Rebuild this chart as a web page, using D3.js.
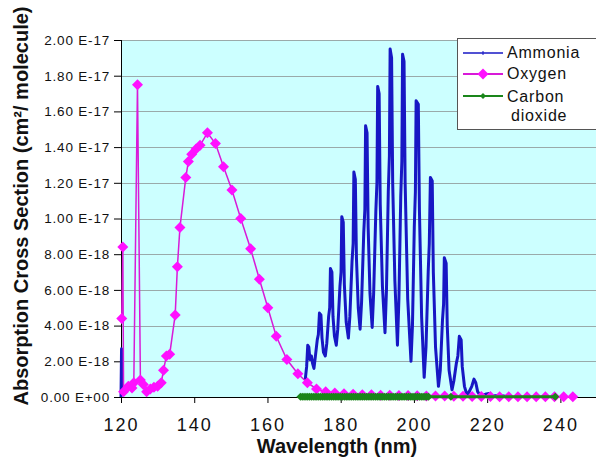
<!DOCTYPE html>
<html>
<head>
<meta charset="utf-8">
<script src="https://cdn.jsdelivr.net/npm/d3@7/dist/d3.min.js"></script>
<style>
  body { margin: 0; background: #fff; }
  svg { display: block; font-family: "Liberation Sans", Arial, sans-serif; }
</style>
</head>
<body>
<div id="chart"></div>
<script>
/* Absorption cross sections, values in units of 1e-18 cm² */

const ammonia = [
  [120.0, 0.0], [120.15, 2.7], [120.35, 0.1], null,
  [170.3, 0.95], [170.7, 1.7], [171.0, 2.9], [171.3, 2.8], [171.6, 2.1], [172.0, 2.3], [172.3, 1.9],
  [172.7, 1.6], [173.1, 2.3], [173.6, 3.2], [173.9, 3.5], [174.2, 4.7], [174.6, 4.6], [174.9, 3.3], [175.3, 2.5],
  [175.8, 2.3], [176.2, 3.0], [176.7, 4.5], [177.0, 5.0], [177.2, 7.2], [177.6, 7.0], [177.9, 4.5], [178.3, 3.4],
  [178.8, 2.9], [179.2, 3.8], [179.8, 6.2], [180.1, 7.0], [180.3, 10.1], [180.7, 9.8], [181.0, 6.3], [181.5, 4.2],
  [182.1, 3.3], [182.5, 4.5], [183.1, 7.6], [183.4, 8.6], [183.6, 12.6], [184.0, 12.2], [184.3, 7.8], [184.8, 5.0],
  [185.3, 3.8], [185.7, 5.3], [186.3, 9.2], [186.6, 10.5], [186.8, 15.2], [187.2, 14.8], [187.5, 9.5], [188.0, 5.8],
  [188.6, 3.9], [189.0, 5.8], [189.6, 10.4], [189.9, 12.0], [190.1, 17.4], [190.5, 17.0], [190.8, 10.8], [191.4, 6.2],
  [192.1, 3.6], [192.5, 6.0], [193.0, 11.5], [193.3, 13.5], [193.5, 19.5], [193.9, 19.0], [194.2, 12.0], [194.8, 6.5],
  [195.5, 2.9], [195.9, 5.5], [196.4, 11.2], [196.7, 13.2], [196.9, 19.2], [197.3, 18.8], [197.6, 12.0], [198.3, 5.5],
  [199.2, 2.0], [199.6, 4.0], [200.1, 9.5], [200.4, 11.5], [200.6, 16.6], [201.2, 16.4], [201.5, 10.5], [202.1, 4.5],
  [202.8, 1.1], [203.3, 2.8], [203.9, 7.0], [204.2, 8.6], [204.5, 12.3], [205.0, 12.1], [205.3, 7.0], [205.9, 2.8],
  [206.7, 0.6], [207.2, 1.5], [207.8, 4.3], [208.1, 5.2], [208.3, 7.8], [208.8, 7.5], [209.1, 4.0], [209.6, 1.5],
  [210.4, 0.4], [210.9, 0.9], [211.6, 1.9], [212.0, 2.3], [212.4, 3.4], [212.9, 3.2], [213.2, 1.7], [213.8, 0.6],
  [214.5, 0.1], [215.1, 0.3], [215.8, 0.6], [216.4, 1.0], [216.9, 0.8], [217.4, 0.3],
  [218.2, 0.05], [219.5, 0.15], [220.5, 0.2], [221.5, 0.05], [223.0, 0.08], [224.5, 0.05], [225.5, 0.02]
];

const oxygen = [
  [120.2, 4.4], [120.5, 8.4], [120.7, 0.3], [122.0, 0.6], [123.0, 0.5], [123.5, 0.8], [124.5, 17.5],
  [125.3, 0.95], [126.1, 0.7], [127.0, 0.3], [128.0, 0.45], [129.0, 0.55], [130.0, 0.6], [131.0, 0.8],
  [131.6, 1.5], [132.4, 2.3], [133.3, 2.4], [134.8, 4.6], [135.4, 7.3], [136.1, 9.5], [137.7, 12.3],
  [138.4, 13.2], [139.3, 13.6], [140.5, 13.9], [141.6, 14.1], [143.6, 14.8], [145.8, 14.2], [148.0, 12.9],
  [150.3, 11.6], [152.7, 10.0], [155.4, 8.3], [157.8, 6.6], [160.1, 5.0], [162.4, 3.4], [165.3, 2.1],
  [168.3, 1.3], [170.9, 0.8], [173.4, 0.45], [175.9, 0.3], [178.4, 0.22], [180.9, 0.18], [183.4, 0.15],
  [185.9, 0.13], [188.4, 0.12], [190.9, 0.1], [193.4, 0.1], [195.9, 0.08], [198.4, 0.08], [200.9, 0.07],
  [203.4, 0.06], [205.9, 0.05], [208.4, 0.05], [210.9, 0.04], [213.4, 0.04], [215.9, 0.03], [218.4, 0.03],
  [220.9, 0.03], [223.4, 0.02], [225.9, 0.02], [228.4, 0.02], [230.9, 0.02], [233.4, 0.02], [235.9, 0.01],
  [238.4, 0.01], [240.9, 0.01], [243.4, 0.01]
];

const carbonDioxide = [
  [169, 0.02], [169.5, 0.02], [170, 0.02], [170.5, 0.02], [171, 0.02], [171.5, 0.02], [172, 0.02],
  [172.5, 0.02], [173, 0.02], [173.5, 0.02], [174, 0.02], [174.5, 0.02], [175, 0.02], [175.5, 0.02],
  [176, 0.02], [176.5, 0.02], [177, 0.02], [177.5, 0.02], [178, 0.02], [178.5, 0.02], [179, 0.02],
  [179.5, 0.02], [180, 0.02], [180.5, 0.02], [181, 0.02], [181.5, 0.02], [182, 0.02], [182.5, 0.02],
  [183, 0.02], [183.5, 0.02], [184, 0.02], [184.5, 0.02], [185, 0.02], [185.5, 0.02], [186, 0.02],
  [186.5, 0.02], [187, 0.02], [187.5, 0.02], [188, 0.02], [188.5, 0.02], [189, 0.02], [189.5, 0.02],
  [190, 0.02], [190.5, 0.02], [191, 0.02], [191.5, 0.02], [192, 0.02], [192.5, 0.02], [193, 0.02],
  [193.5, 0.02], [194, 0.02], [194.5, 0.02], [195, 0.02], [195.5, 0.02], [196, 0.02], [196.5, 0.02],
  [197, 0.02], [197.5, 0.02], [198, 0.02], [198.5, 0.02], [199, 0.02], [199.5, 0.02], [200, 0.02],
  [200.5, 0.02], [201, 0.02], [201.5, 0.02], [202, 0.02], [202.5, 0.02], [203, 0.02], [203.5, 0.02],
  [204, 0.02], [210.1, 0.01], [238.6, 0.01]
];

const xTicks = [120, 140, 160, 180, 200, 220, 240];
const yTicks = [0, 2, 4, 6, 8, 10, 12, 14, 16, 18, 20];
const yTickLabels = ["0.00 E+00", "2.00 E-18", "4.00 E-18", "6.00 E-18", "8.00 E-18", "1.00 E-17",
  "1.20 E-17", "1.40 E-17", "1.60 E-17", "1.80 E-17", "2.00 E-17"];

const W = 596, H = 458;
const plot = { left: 121, right: 597, top: 40, bottom: 397 };

const svg = d3.select("#chart").append("svg").attr("width", W).attr("height", H);

const x = d3.scaleLinear().domain([120, 250]).range([plot.left, plot.right]);
const y = d3.scaleLinear().domain([0, 20]).range([plot.bottom, plot.top]);

// plot area
svg.append("rect")
  .attr("x", plot.left).attr("y", plot.top)
  .attr("width", plot.right - plot.left).attr("height", plot.bottom - plot.top)
  .attr("fill", "#ccffff");

svg.append("g").selectAll("line")
  .data(yTicks.filter((d) => d > 0))
  .join("line")
  .attr("x1", plot.left).attr("x2", plot.right)
  .attr("y1", (d) => Math.round(y(d)) + 0.5).attr("y2", (d) => Math.round(y(d)) + 0.5)
  .attr("stroke", "#9aaaaa").attr("stroke-width", 1);

// axes
const yAxis = svg.append("g")
  .attr("transform", `translate(${plot.left},0)`)
  .call(d3.axisLeft(y).tickValues(yTicks).tickSize(7).tickPadding(4)
    .tickFormat((d, i) => yTickLabels[i]));
yAxis.select(".domain").remove();
yAxis.selectAll("line").attr("stroke", "#000");
yAxis.selectAll("text")
  .attr("font-size", 13.5).attr("letter-spacing", 0.8).attr("fill", "#111")
  .attr("font-family", "'Liberation Sans', Arial, sans-serif");

const xAxis = svg.append("g")
  .attr("transform", `translate(0,${plot.bottom})`)
  .call(d3.axisBottom(x).tickValues(xTicks).tickSize(6).tickPadding(15));
xAxis.select(".domain").remove();
xAxis.selectAll("line").attr("stroke", "#000");
xAxis.selectAll("text")
  .attr("font-size", 18).attr("letter-spacing", 2).attr("fill", "#111")
  .attr("font-family", "'Liberation Sans', Arial, sans-serif");

svg.append("line")
  .attr("x1", plot.left + 0.5).attr("x2", plot.left + 0.5)
  .attr("y1", plot.top).attr("y2", plot.bottom + 1)
  .attr("stroke", "#000");
svg.append("line")
  .attr("x1", plot.left).attr("x2", plot.right)
  .attr("y1", plot.bottom + 0.5).attr("y2", plot.bottom + 0.5)
  .attr("stroke", "#000");

// series
const line = d3.line()
  .defined((d) => d !== null)
  .x((d) => x(d[0]))
  .y((d) => y(d[1]));

const diamond = (r) => `M0,${-r}L${r},0L0,${r}L${-r},0Z`;

const AMMONIA = "#1717c4";
const OXYGEN_LINE = "#d81ad8";
const OXYGEN = "#ff10ff";
const CO2 = "#1a861a";

svg.append("path")
  .datum(ammonia)
  .attr("d", line)
  .attr("fill", "none")
  .attr("stroke", AMMONIA)
  .attr("stroke-width", 3)
  .attr("stroke-linejoin", "round");

svg.append("path")
  .datum(oxygen)
  .attr("d", line)
  .attr("fill", "none")
  .attr("stroke", OXYGEN_LINE)
  .attr("stroke-width", 1.5);

svg.append("g").selectAll("path")
  .data(oxygen)
  .join("path")
  .attr("transform", (d) => `translate(${x(d[0])},${y(d[1])})`)
  .attr("d", diamond(5.5))
  .attr("fill", OXYGEN);

svg.append("path")
  .datum(carbonDioxide)
  .attr("d", line)
  .attr("fill", "none")
  .attr("stroke", CO2)
  .attr("stroke-width", 3);

svg.append("g").selectAll("path")
  .data(carbonDioxide)
  .join("path")
  .attr("transform", (d) => `translate(${x(d[0])},${y(d[1])})`)
  .attr("d", diamond(4))
  .attr("fill", CO2);

// legend
const legend = svg.append("g");
legend.append("rect")
  .attr("x", 457.5).attr("y", 38.5).attr("width", 145).attr("height", 91)
  .attr("fill", "#fff").attr("stroke", "#555");

const legendRows = [
  { name: ["Ammonia"], color: AMMONIA, ly: 53, ty: 58, marker: "tick" },
  { name: ["Oxygen"], color: OXYGEN, ly: 74, ty: 79, marker: "big" },
  { name: ["Carbon", "dioxide"], color: CO2, ly: 96, ty: 102, marker: "small" }
];

legendRows.forEach((row) => {
  const g = legend.append("g");
  g.append("line")
    .attr("x1", 463).attr("x2", 503).attr("y1", row.ly).attr("y2", row.ly)
    .attr("stroke", row.marker === "big" ? OXYGEN_LINE : row.color)
    .attr("stroke-width", row.marker === "tick" ? 1.3 : 2);
  if (row.marker === "tick") {
    g.append("line")
      .attr("x1", 483).attr("x2", 483).attr("y1", row.ly - 2).attr("y2", row.ly + 2)
      .attr("stroke", row.color).attr("stroke-width", 1);
  } else {
    g.append("path")
      .attr("transform", `translate(483,${row.ly})`)
      .attr("d", diamond(row.marker === "big" ? 5.5 : 3))
      .attr("fill", row.color);
  }
  row.name.forEach((t, i) => {
    g.append("text")
      .attr("x", i === 0 ? 507 : 511).attr("y", row.ty + i * 18.5)
      .attr("font-size", 16).attr("letter-spacing", 0.8).attr("fill", "#111")
      .text(t);
  });
});

// axis titles
svg.append("text")
  .attr("x", 337).attr("y", 453)
  .attr("text-anchor", "middle")
  .attr("font-size", 20).attr("font-weight", "bold").attr("fill", "#111")
  .text("Wavelength (nm)");

svg.append("text")
  .attr("transform", "translate(28,206) rotate(-90)")
  .attr("text-anchor", "middle")
  .attr("font-size", 20).attr("font-weight", "bold").attr("fill", "#111")
  .text("Absorption Cross Section (cm²/ molecule)");
</script>
</body>
</html>
